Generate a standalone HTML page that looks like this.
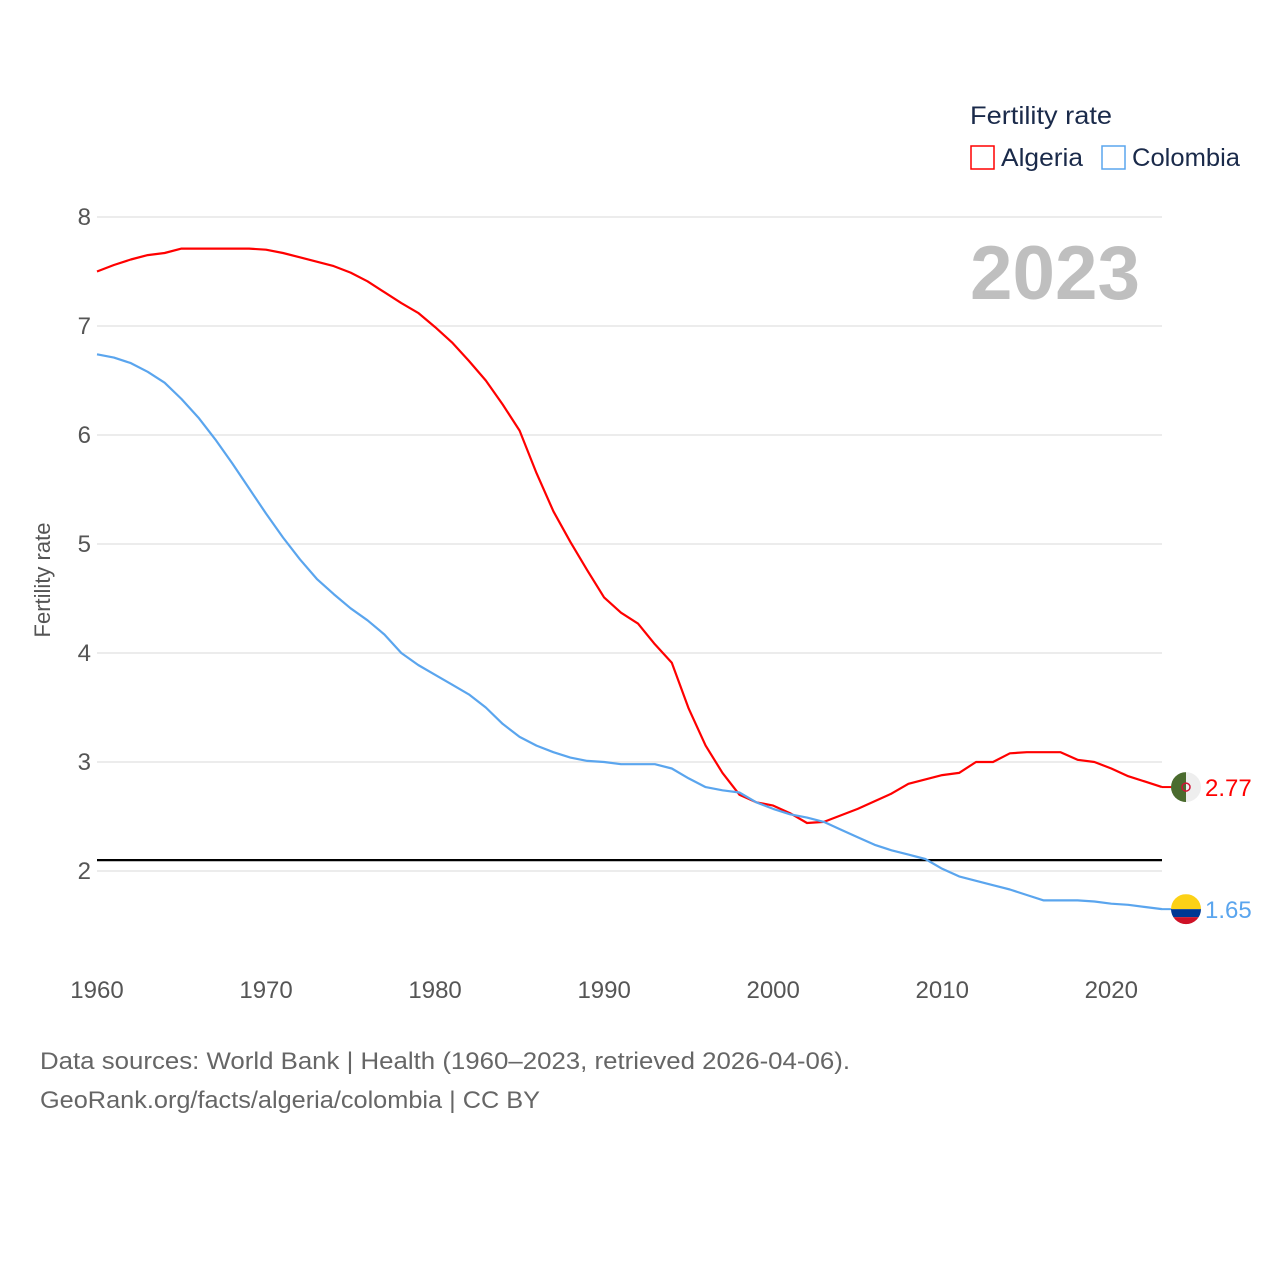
<!DOCTYPE html>
<html><head><meta charset="utf-8"><style>
body{margin:0;background:#fff;}
svg text{font-family:"Liberation Sans",sans-serif;}
</style></head><body>
<svg id="chart" width="1280" height="1280" xmlns="http://www.w3.org/2000/svg">
<rect width="1280" height="1280" fill="#fff"/>
<g id="grid"></g>
<g id="lines"></g>
<text x="970" y="299" font-size="76" font-weight="bold" fill="#bfbfbf" textLength="170" lengthAdjust="spacingAndGlyphs">2023</text>
<text transform="translate(50,580) rotate(-90)" text-anchor="middle" font-size="22" fill="#555">Fertility rate</text>
<g>
<text x="970" y="124" font-size="25" fill="#1a2a4a" textLength="142" lengthAdjust="spacingAndGlyphs">Fertility rate</text>
<g><rect x="971" y="146" width="23" height="23" fill="none" stroke="#f00" stroke-width="1.5"/><text x="1001" y="166" font-size="25" fill="#1a2a4a" textLength="82" lengthAdjust="spacingAndGlyphs">Algeria</text></g>
<g><rect x="1102" y="146" width="23" height="23" fill="none" stroke="#5aa5ee" stroke-width="1.5"/><text x="1132" y="166" font-size="25" fill="#1a2a4a" textLength="108" lengthAdjust="spacingAndGlyphs">Colombia</text></g>
</g>
<text x="40" y="1069" font-size="24" fill="#666" textLength="810" lengthAdjust="spacingAndGlyphs">Data sources: World Bank | Health (1960–2023, retrieved 2026-04-06).</text>
<text x="40" y="1108" font-size="24" fill="#666" textLength="500" lengthAdjust="spacingAndGlyphs">GeoRank.org/facts/algeria/colombia | CC BY</text>
</svg>
<script>
const years=[];for(let y=1960;y<=2023;y++)years.push(y);
const algeria=[7.50,7.56,7.61,7.65,7.67,7.71,7.71,7.71,7.71,7.71,7.70,7.67,7.63,7.59,7.55,7.49,7.41,7.31,7.21,7.12,6.99,6.85,6.68,6.50,6.28,6.04,5.65,5.30,5.02,4.76,4.51,4.37,4.27,4.08,3.91,3.49,3.15,2.90,2.70,2.63,2.60,2.53,2.44,2.45,2.51,2.57,2.64,2.71,2.80,2.84,2.88,2.90,3.00,3.00,3.08,3.09,3.09,3.09,3.02,3.00,2.94,2.87,2.82,2.77];
const colombia=[6.74,6.71,6.66,6.58,6.48,6.33,6.16,5.96,5.74,5.51,5.28,5.06,4.86,4.68,4.54,4.41,4.30,4.17,4.00,3.89,3.80,3.71,3.62,3.50,3.35,3.23,3.15,3.09,3.04,3.01,3.00,2.98,2.98,2.98,2.94,2.85,2.77,2.74,2.72,2.63,2.57,2.52,2.49,2.45,2.38,2.31,2.24,2.19,2.15,2.11,2.02,1.95,1.91,1.87,1.83,1.78,1.73,1.73,1.73,1.72,1.70,1.69,1.67,1.65];
const yTicks=[2,3,4,5,6,7,8];
const xTicks=[1960,1970,1980,1990,2000,2010,2020];
const replacementRate=[2.1];
const NS="http://www.w3.org/2000/svg";
const X=y=>97+(y-1960)*(1162-97)/63;
const Y=v=>217+(8-v)*109;
const grid=document.getElementById('grid'),lines=document.getElementById('lines');
function mk(tag,attrs,parent){const e=document.createElementNS(NS,tag);for(const k in attrs)e.setAttribute(k,attrs[k]);parent.appendChild(e);return e;}
yTicks.forEach(t=>{
 const l=mk('line',{x1:97,x2:1162,y1:Y(t),y2:Y(t),stroke:'#e6e6e6','stroke-width':1.5},grid);
 
 
 const tx=mk('text',{x:91,y:Y(t)+8,'text-anchor':'end','font-size':24,fill:'#555'},grid);tx.textContent=t;
 
 
});
xTicks.forEach(t=>{
 const tx=mk('text',{x:X(t),y:998,'text-anchor':'middle','font-size':24,fill:'#555'},grid);tx.textContent=t;
 
 
});
replacementRate.forEach(v=>{
 const l=mk('line',{x1:97,x2:1162,y1:Y(v),y2:Y(v),stroke:'#000','stroke-width':2.2},lines);
 
 
});
function series(data,color,name){
 const d=data.map((v,i)=>(i?'L':'M')+X(years[i]).toFixed(1)+' '+Y(v).toFixed(1)).join(' ');
 const p=mk('path',{d:d,fill:'none',stroke:color,'stroke-width':2.2,'stroke-linejoin':'round'},lines);
 
 
 const last=data[data.length-1],yy=Y(last);
 mk('line',{x1:1162,x2:1172,y1:yy,y2:yy,stroke:color,'stroke-width':2},lines);
 const t=mk('text',{x:1205,y:yy+9,'font-size':24,fill:color},lines);t.textContent=last.toFixed(2);
 
 
 return yy;
}
const ya=series(algeria,'#ff0000','algeria');
const yc=series(colombia,'#5aa5ee','colombia');
const fa=mk('g',{},lines);


const ca=mk('clipPath',{id:'ca'},fa);mk('circle',{cx:1186,cy:ya,r:15},ca);
const ga=mk('g',{'clip-path':'url(#ca)'},fa);
mk('rect',{x:1171,y:ya-15,width:15,height:30,fill:'#4a6b2e'},ga);
mk('rect',{x:1186,y:ya-15,width:15,height:30,fill:'#eeeeee'},ga);
mk('circle',{cx:1186,cy:ya,r:4,fill:'none',stroke:'#d21034','stroke-width':1.5},ga);
const fc=mk('g',{},lines);


const cc=mk('clipPath',{id:'cc'},fc);mk('circle',{cx:1186,cy:yc,r:15},cc);
const gc=mk('g',{'clip-path':'url(#cc)'},fc);
mk('rect',{x:1171,y:yc-15,width:30,height:15,fill:'#fcd116'},gc);
mk('rect',{x:1171,y:yc,width:30,height:8,fill:'#003893'},gc);
mk('rect',{x:1171,y:yc+8,width:30,height:8,fill:'#ce1126'},gc);
</script>
</body></html>
